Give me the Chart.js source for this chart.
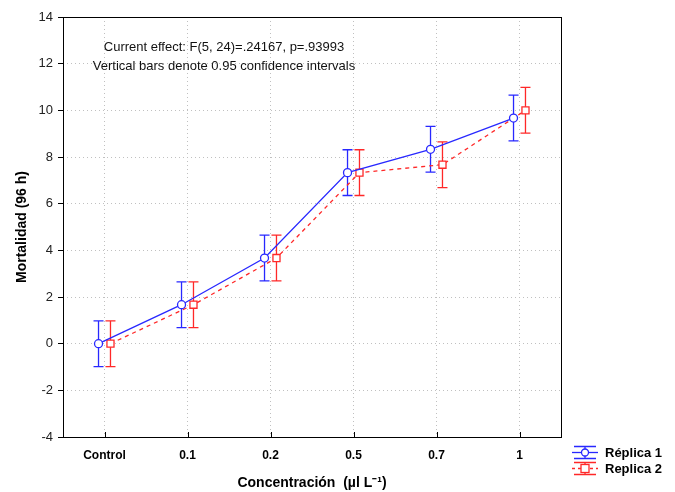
<!DOCTYPE html>
<html><head><meta charset="utf-8">
<script src="https://cdn.jsdelivr.net/npm/chart.js@4"></script>
<style>html,body{margin:0;padding:0;background:#fff}#w{width:675px;height:492px}</style>
</head><body><div id="w"><canvas id="c" width="675" height="492"></canvas></div>
<script>
const categories = ["Control", "0.1", "0.2", "0.5", "0.7", "1"];
const replica1 = [0.0, 1.67, 3.67, 7.33, 8.33, 9.67];
const replica1Err = [0.98, 0.98, 0.98, 0.98, 0.98, 0.98];
const replica2 = [0.0, 1.67, 3.67, 7.33, 7.67, 10.0];
const replica2Err = [0.98, 0.98, 0.98, 0.98, 0.98, 0.98];
const seriesLabels = ["Réplica 1", "Replica 2"];
const yTicks = [-4, -2, 0, 2, 4, 6, 8, 10, 12, 14];
const noteLines = ["Current effect: F(5, 24)=.24167, p=.93993", "Vertical bars denote 0.95 confidence intervals"];
const xTitle = "Concentración  (µl L⁻¹)";
const yTitle = "Mortalidad (96 h)";

const BLUE = "rgb(40,40,255)";
const RED = "rgb(255,40,40)";
const SHIFT = 0.072;
const FONT = "'Liberation Sans', Arial, sans-serif";

function pts(vals, shift){ return vals.map((v,i)=>({x:i+shift, y:v})); }

const errs = [replica1Err, replica2Err];
const colors = [BLUE, RED];

const plugin = {
  id: 'extras',
  beforeDatasetsDraw(chart){
    const ctx = chart.ctx, xs = chart.scales.x, ys = chart.scales.y;
    chart.data.datasets.forEach((ds, di)=>{
      ctx.save();
      ctx.strokeStyle = colors[di]; ctx.lineWidth = 1.3; ctx.setLineDash([]);
      ds.data.forEach((p, i)=>{
        const x = xs.getPixelForValue(p.x);
        const y1 = ys.getPixelForValue(p.y + errs[di][i]);
        const y2 = ys.getPixelForValue(p.y - errs[di][i]);
        ctx.beginPath();
        ctx.moveTo(x, y1); ctx.lineTo(x, y2);
        ctx.moveTo(x-5, y1); ctx.lineTo(x+5, y1);
        ctx.moveTo(x-5, y2); ctx.lineTo(x+5, y2);
        ctx.stroke();
      });
      ctx.restore();
    });
  },
  afterDraw(chart){
    const ctx = chart.ctx, a = chart.chartArea, xs = chart.scales.x;
    ctx.save();
    ctx.strokeStyle = "#000"; ctx.lineWidth = 1; ctx.setLineDash([]);
    ctx.strokeRect(Math.round(a.left)+0.5, Math.round(a.top)+0.5, Math.round(a.right-a.left), Math.round(a.bottom-a.top));
    ctx.beginPath();
    categories.forEach((c,i)=>{
      const x = Math.round(xs.getPixelForValue(i))+0.5;
      ctx.moveTo(x, a.bottom); ctx.lineTo(x, a.bottom-5);
    });
    ctx.stroke();
    ctx.fillStyle = "#111"; ctx.font = "13px " + FONT; ctx.textAlign = "center"; ctx.textBaseline = "middle";
    ctx.fillText(noteLines[0], 224, 47);
    ctx.fillText(noteLines[1], 224, 66);
    const lx = 572, ly = [452, 468];
    chart.data.datasets.forEach((ds, di)=>{
      const y = ly[di];
      ctx.strokeStyle = colors[di]; ctx.lineWidth = 1.3;
      ctx.setLineDash(di===1 ? [3,3] : []);
      ctx.beginPath(); ctx.moveTo(lx, y+0.5); ctx.lineTo(lx+26, y+0.5); ctx.stroke();
      ctx.setLineDash([]);
      ctx.beginPath();
      ctx.moveTo(lx+2, y-5.5); ctx.lineTo(lx+24, y-5.5);
      ctx.moveTo(lx+2, y+6.5); ctx.lineTo(lx+24, y+6.5);
      ctx.moveTo(lx+13, y-5.5); ctx.lineTo(lx+13, y+6.5);
      ctx.stroke();
      ctx.fillStyle = "#fff";
      if (di===0){ ctx.beginPath(); ctx.arc(lx+13, y+0.5, 3.5, 0, Math.PI*2); ctx.fill(); ctx.stroke(); }
      else { ctx.fillRect(lx+9, y-3.5, 8, 8); ctx.strokeRect(lx+9, y-3.5, 8, 8); }
      ctx.fillStyle = "#000"; ctx.font = "bold 13px " + FONT; ctx.textAlign = "left";
      ctx.fillText(ds.label, lx+33, y+1);
    });
    ctx.restore();
  }
};

new Chart(document.getElementById('c'), {
  type: 'line',
  data: {
    datasets: [
      { label: seriesLabels[0], data: pts(replica1, -SHIFT), borderColor: BLUE, backgroundColor: "#fff",
        borderWidth: 1.3, pointStyle: 'circle', pointRadius: 4, pointBorderWidth: 1.3, pointBackgroundColor: "#fff", pointBorderColor: BLUE, tension: 0 },
      { label: seriesLabels[1], data: pts(replica2, SHIFT), borderColor: RED, backgroundColor: "#fff",
        borderWidth: 1.3, borderDash: [4,4], pointStyle: 'rect', pointRadius: 5, pointBorderWidth: 1.3, pointBackgroundColor: "#fff", pointBorderColor: RED, tension: 0 }
    ]
  },
  options: {
    responsive: false, animation: false,
    layout: { padding: { left: 0, right: 114, top: 17, bottom: 0 } },
    plugins: { legend: { display: false }, tooltip: { enabled: false } },
    scales: {
      x: {
        type: 'linear', min: -0.5, max: 5.5,
        afterBuildTicks(s){ s.ticks = categories.map((c,i)=>({value:i})); },
        afterFit(s){ s.height = 55; },
        ticks: { callback: (v)=>categories[Math.round(v)], color: "#000", font: { family: FONT, size: 12, weight: 'bold' }, padding: 11, maxRotation: 0, autoSkip: false },
        grid: { color: "#c0c0c0", drawTicks: false, lineWidth: 1 },
        border: { display: false, dash: [1,3] },
        title: { display: true, text: xTitle, color: "#000", font: { family: FONT, size: 14, weight: 'bold' }, padding: { top: 5, bottom: 0 } }
      },
      y: {
        min: -4, max: 14,
        afterBuildTicks(s){ s.ticks = yTicks.map(v=>({value:v})); },
        afterFit(s){ s.width = 63; },
        ticks: { color: "#222", font: { family: FONT, size: 13 }, padding: 5 },
        grid: { color: "#c0c0c0", tickColor: "#000", tickLength: 5, lineWidth: 1 },
        border: { display: false, dash: [1,3] },
        title: { display: true, text: yTitle, color: "#000", font: { family: FONT, size: 14, weight: 'bold' }, padding: { top: 14, bottom: 4 } }
      }
    }
  },
  plugins: [plugin]
});
</script></body></html>
